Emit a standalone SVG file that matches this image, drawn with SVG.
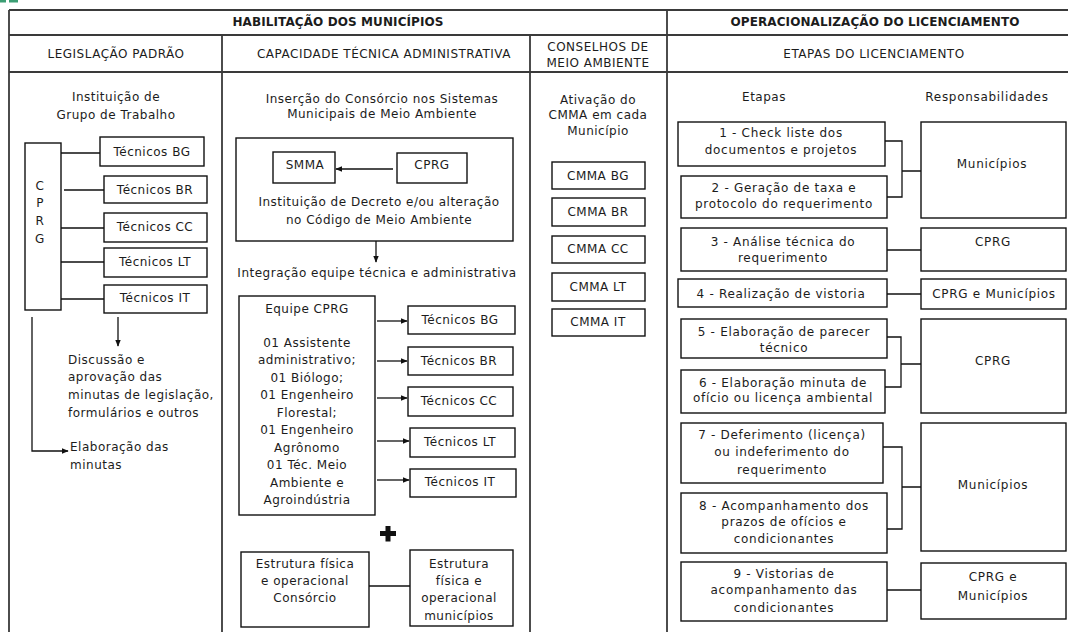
<svg xmlns="http://www.w3.org/2000/svg" width="1068" height="632" viewBox="0 0 1068 632">
<defs>
<style>
.t{font-family:"DejaVu Sans",Verdana,sans-serif;font-size:12px;letter-spacing:0.5px;fill:#1c1c1c}
.c{text-anchor:middle}
.b{font-weight:bold;letter-spacing:0.1px}
.r{letter-spacing:0.7px}
.box{fill:#fff;stroke:#111;stroke-width:1.4}
.grid{stroke:#3a3a3a;stroke-width:1.8;fill:none}
.ln{stroke:#111;stroke-width:1.3;fill:none}
.ar{stroke:#111;stroke-width:1.3;fill:none;marker-end:url(#ah)}
</style>
<marker id="ah" viewBox="0 0 10 10" refX="9" refY="5" markerWidth="7" markerHeight="7" markerUnits="userSpaceOnUse" orient="auto">
<path d="M0,1 L10,5 L0,9 Z" fill="#111"/>
</marker>
</defs>
<rect width="1068" height="632" fill="#fff"/>
<rect x="0" y="0" width="6" height="2.5" fill="#3c9e74"/>
<rect x="9" y="0" width="9" height="2.5" fill="#3c9e74"/>

<g id="table">
<path class="grid" d="M9,10 H1068 M9,35 H1068 M9,72 H1068 M9,10 V632 M667,10 V632 M222,35 V632 M530,35 V632"/>
<text class="t c b" x="338" y="26">HABILITAÇÃO DOS MUNICÍPIOS</text>
<text class="t c b" x="875" y="26">OPERACIONALIZAÇÃO DO LICENCIAMENTO</text>
<text class="t c" x="116" y="58">LEGISLAÇÃO PADRÃO</text>
<text class="t c" x="384" y="58">CAPACIDADE TÉCNICA ADMINISTRATIVA</text>
<text class="t c" x="598" y="51">CONSELHOS DE</text>
<text class="t c" x="598" y="67">MEIO AMBIENTE</text>
<text class="t c" x="874" y="58">ETAPAS DO LICENCIAMENTO</text>
</g>

<g id="leg-grupo">
<text class="t c" x="116" y="101">Instituição de</text>
<text class="t c" x="116" y="119">Grupo de Trabalho</text>
</g>
<g id="leg-cprg">
<rect class="box" x="25" y="143" width="36" height="167"/>
<text class="t c" x="40" y="190">C</text>
<text class="t c" x="40" y="207">P</text>
<text class="t c" x="40" y="225">R</text>
<text class="t c" x="40" y="243">G</text>
</g>
<g id="leg-bg"><rect class="box" x="100" y="137" width="104" height="29"/><text class="t c" x="152" y="156">Técnicos BG</text></g>
<g id="leg-br"><rect class="box" x="104" y="176" width="103" height="27"/><text class="t c" x="155" y="194">Técnicos BR</text></g>
<g id="leg-cc"><rect class="box" x="104" y="213" width="103" height="29"/><text class="t c" x="155" y="231">Técnicos CC</text></g>
<g id="leg-lt"><rect class="box" x="104" y="248" width="103" height="29"/><text class="t c" x="155" y="266">Técnicos LT</text></g>
<g id="leg-it"><rect class="box" x="104" y="285" width="103" height="28"/><text class="t c" x="155" y="302">Técnicos IT</text></g>
<g id="leg-discussao">
<text class="t" x="68" y="364">Discussão e</text>
<text class="t" x="68" y="381">aprovação das</text>
<text class="t" x="68" y="399">minutas de legislação,</text>
<text class="t" x="68" y="417">formulários e outros</text>
</g>
<g id="leg-elaboracao">
<text class="t" x="70" y="451">Elaboração das</text>
<text class="t" x="70" y="469">minutas</text>
</g>

<g id="cap-insercao">
<text class="t c" x="382" y="103">Inserção do Consórcio nos Sistemas</text>
<text class="t c" x="382" y="118">Municipais de Meio Ambiente</text>
</g>
<g id="cap-decreto">
<rect class="box" x="236" y="138" width="277" height="103"/>
<text class="t c" x="379" y="206">Instituição de Decreto e/ou alteração</text>
<text class="t c" x="379" y="224">no Código de Meio Ambiente</text>
</g>
<g id="cap-smma"><rect class="box" x="273" y="152" width="62" height="31"/><text class="t c" x="305" y="169">SMMA</text></g>
<g id="cap-cprg"><rect class="box" x="397" y="153" width="70" height="30"/><text class="t c" x="432" y="169">CPRG</text></g>
<g id="cap-integracao"><text class="t c" x="377" y="277">Integração equipe técnica e administrativa</text></g>
<g id="cap-equipe">
<rect class="box" x="239" y="296" width="136" height="219"/>
<text class="t c" x="307" y="313">Equipe CPRG</text>
<text class="t c" x="307" y="347">01 Assistente</text>
<text class="t c" x="307" y="364">administrativo;</text>
<text class="t c" x="307" y="382">01 Biólogo;</text>
<text class="t c" x="307" y="399">01 Engenheiro</text>
<text class="t c" x="307" y="417">Florestal;</text>
<text class="t c" x="307" y="434">01 Engenheiro</text>
<text class="t c" x="307" y="452">Agrônomo</text>
<text class="t c" x="307" y="469">01 Téc. Meio</text>
<text class="t c" x="307" y="487">Ambiente e</text>
<text class="t c" x="307" y="504">Agroindústria</text>
</g>
<g id="cap-bg"><rect class="box" x="408" y="306" width="107" height="28"/><text class="t c" x="460" y="324">Técnicos BG</text></g>
<g id="cap-br"><rect class="box" x="408" y="347" width="105" height="28"/><text class="t c" x="459" y="365">Técnicos BR</text></g>
<g id="cap-cc"><rect class="box" x="408" y="387" width="105" height="29"/><text class="t c" x="459" y="405">Técnicos CC</text></g>
<g id="cap-lt"><rect class="box" x="410" y="428" width="105" height="29"/><text class="t c" x="460" y="446">Técnicos LT</text></g>
<g id="cap-it"><rect class="box" x="410" y="469" width="106" height="28"/><text class="t c" x="460" y="486">Técnicos IT</text></g>
<g id="cap-plus"><path d="M385.5,526 h5 v5 h5.5 v5 h-5.5 v5.5 h-5 v-5.5 h-5.5 v-5 h5.5 z" fill="#111"/></g>
<g id="cap-estr-consorcio">
<rect class="box" x="241" y="552" width="128" height="75"/>
<text class="t c" x="305" y="568">Estrutura física</text>
<text class="t c" x="305" y="585">e operacional</text>
<text class="t c" x="305" y="602">Consórcio</text>
</g>
<g id="cap-estr-municipios">
<rect class="box" x="410" y="550" width="103" height="76"/>
<text class="t c" x="459" y="568">Estrutura</text>
<text class="t c" x="459" y="585">física e</text>
<text class="t c" x="459" y="602">operacional</text>
<text class="t c" x="459" y="620">municípios</text>
</g>

<g id="con-ativacao">
<text class="t c" x="598" y="104">Ativação do</text>
<text class="t c" x="598" y="119">CMMA em cada</text>
<text class="t c" x="598" y="135">Município</text>
</g>
<g id="con-bg"><rect class="box" x="552" y="162" width="93" height="27"/><text class="t c" x="598" y="180">CMMA BG</text></g>
<g id="con-br"><rect class="box" x="552" y="198" width="93" height="28"/><text class="t c" x="598" y="216">CMMA BR</text></g>
<g id="con-cc"><rect class="box" x="552" y="236" width="93" height="27"/><text class="t c" x="598" y="253">CMMA CC</text></g>
<g id="con-lt"><rect class="box" x="552" y="273" width="93" height="28"/><text class="t c" x="598" y="291">CMMA LT</text></g>
<g id="con-it"><rect class="box" x="552" y="309" width="93" height="27"/><text class="t c" x="598" y="326">CMMA IT</text></g>

<g id="op-heads">
<text class="t c" x="764" y="101">Etapas</text>
<text class="t c r" x="987" y="101">Responsabilidades</text>
</g>
<g id="step1"><rect class="box" x="678" y="122" width="207" height="44"/>
<text class="t c r" x="781" y="137">1 - Check liste dos</text><text class="t c r" x="781" y="154">documentos e projetos</text></g>
<g id="step2"><rect class="box" x="681" y="176" width="206" height="42"/>
<text class="t c r" x="784" y="192">2 - Geração de taxa e</text><text class="t c r" x="784" y="208">protocolo do requerimento</text></g>
<g id="step3"><rect class="box" x="681" y="228" width="206" height="43"/>
<text class="t c r" x="783" y="246">3 - Análise técnica do</text><text class="t c r" x="783" y="262">requerimento</text></g>
<g id="step4"><rect class="box" x="678" y="279" width="209" height="28"/>
<text class="t c r" x="781" y="298">4 - Realização de vistoria</text></g>
<g id="step5"><rect class="box" x="681" y="319" width="206" height="39"/>
<text class="t c r" x="784" y="336">5 - Elaboração de parecer</text><text class="t c r" x="784" y="352">técnico</text></g>
<g id="step6"><rect class="box" x="681" y="370" width="204" height="43"/>
<text class="t c r" x="783" y="387">6 - Elaboração minuta de</text><text class="t c r" x="783" y="402">ofício ou licença ambiental</text></g>
<g id="step7"><rect class="box" x="681" y="423" width="202" height="60"/>
<text class="t c r" x="782" y="439">7 - Deferimento (licença)</text><text class="t c r" x="782" y="456">ou indeferimento do</text><text class="t c r" x="782" y="474">requerimento</text></g>
<g id="step8"><rect class="box" x="681" y="493" width="206" height="60"/>
<text class="t c r" x="784" y="510">8 - Acompanhamento dos</text><text class="t c r" x="784" y="526">prazos de ofícios e</text><text class="t c r" x="784" y="543">condicionantes</text></g>
<g id="step9"><rect class="box" x="681" y="562" width="206" height="59"/>
<text class="t c r" x="784" y="578">9 - Vistorias de</text><text class="t c r" x="784" y="594">acompanhamento das</text><text class="t c r" x="784" y="612">condicionantes</text></g>

<g id="resp-mun1"><rect class="box" x="921" y="122" width="145" height="96"/><text class="t c r" x="992" y="168">Municípios</text></g>
<g id="resp-cprg1"><rect class="box" x="921" y="228" width="145" height="43"/><text class="t c r" x="993" y="246">CPRG</text></g>
<g id="resp-cprgmun1"><rect class="box" x="921" y="279" width="145" height="30"/><text class="t c r" x="994" y="298">CPRG e Municípios</text></g>
<g id="resp-cprg2"><rect class="box" x="921" y="319" width="145" height="94"/><text class="t c r" x="993" y="365">CPRG</text></g>
<g id="resp-mun2"><rect class="box" x="921" y="423" width="145" height="128"/><text class="t c r" x="993" y="489">Municípios</text></g>
<g id="resp-cprgmun2"><rect class="box" x="921" y="563" width="145" height="56"/><text class="t c r" x="993" y="581">CPRG e</text><text class="t c r" x="993" y="600">Municípios</text></g>

<g id="connectors">
<path class="ln" d="M61,153 H100 M64,190 H104 M61,228 H104 M61,262 H104 M61,299 H104"/>
<path class="ar" d="M118,317 V346"/>
<path class="ar" d="M32,317 V451 H68"/>
<path class="ar" d="M393,169 H336"/>
<path class="ar" d="M376,241 V262"/>
<path class="ar" d="M377,321 H407"/>
<path class="ar" d="M377,361 H407"/>
<path class="ar" d="M377,398 H407"/>
<path class="ar" d="M377,441 H409"/>
<path class="ar" d="M377,480 H409"/>
<path class="ln" d="M369,586 H410"/>
<path class="ln" d="M885,141 H902 V197 H887 M902,171 H921"/>
<path class="ln" d="M887,250 H921"/>
<path class="ln" d="M887,294 H921"/>
<path class="ln" d="M887,337 H901 V387 H885 M901,364 H921"/>
<path class="ln" d="M883,447 H902 V529 H887 M902,487 H921"/>
<path class="ln" d="M887,590 H921"/>
</g>
</svg>
